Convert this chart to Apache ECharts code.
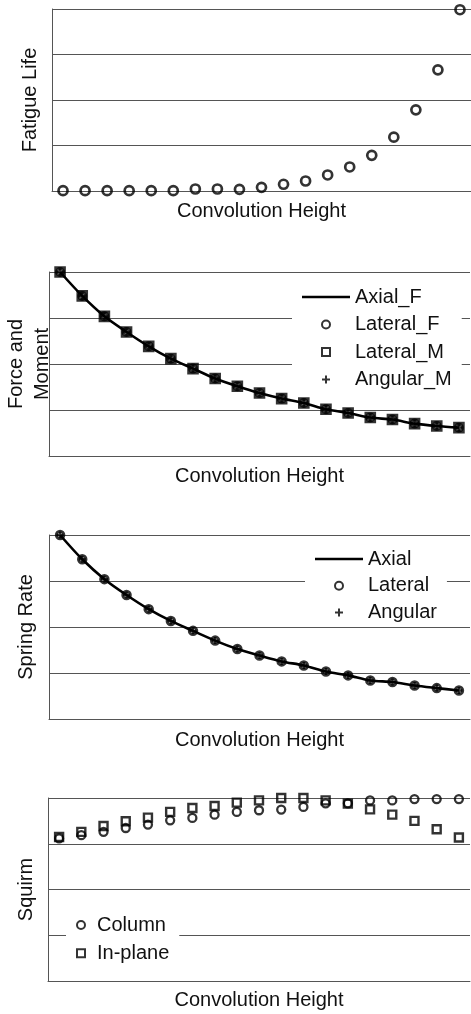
<!DOCTYPE html>
<html>
<head>
<meta charset="utf-8">
<script src="https://cdn.jsdelivr.net/npm/echarts@6/dist/echarts.min.js"></script>
<style>
  html, body { margin: 0; padding: 0; background: #fff; }
  #chart { width: 471px; height: 1014px; }
</style>
</head>
<body>
<div id="chart"></div>
<script>
// 横轴: 波纹高度序号
const convolutionIdx = [1, 2, 3, 4, 5, 6, 7, 8, 9, 10, 11, 12, 13, 14, 15, 16, 17, 18, 19]
// 疲劳寿命
const fatigueLife = [0.2, 0.2, 0.2, 0.2, 0.2, 0.2, 1.1, 1.1, 0.9, 2.0, 3.7, 5.5, 8.8, 13.2, 19.6, 29.6, 44.6, 66.6, 99.6]
// 力和力矩 (四条几乎重合)
const axialF = [100, 87.0, 75.9, 67.4, 59.6, 52.9, 47.5, 42.1, 37.9, 34.2, 31.2, 28.8, 25.4, 23.4, 20.9, 19.8, 17.6, 16.3, 15.4]
const lateralF = [100, 87.0, 75.9, 67.4, 59.6, 52.9, 47.5, 42.1, 37.9, 34.2, 31.2, 28.8, 25.4, 23.4, 20.9, 19.8, 17.6, 16.3, 15.4]
const lateralM = [100, 87.0, 75.9, 67.4, 59.6, 52.9, 47.5, 42.1, 37.9, 34.2, 31.2, 28.8, 25.4, 23.4, 20.9, 19.8, 17.6, 16.3, 15.4]
const angularM = [100, 87.0, 75.9, 67.4, 59.6, 52.9, 47.5, 42.1, 37.9, 34.2, 31.2, 28.8, 25.4, 23.4, 20.9, 19.8, 17.6, 16.3, 15.4]
// 弹簧刚度
const axialK = [100, 86.8, 76.0, 67.4, 59.7, 53.3, 47.9, 42.6, 38.0, 34.5, 31.3, 29.1, 25.8, 23.7, 20.9, 20.1, 18.2, 16.8, 15.5]
const lateralK = [100, 86.8, 76.0, 67.4, 59.7, 53.3, 47.9, 42.6, 38.0, 34.5, 31.3, 29.1, 25.8, 23.7, 20.9, 20.1, 18.2, 16.8, 15.5]
const angularK = [100, 86.8, 76.0, 67.4, 59.7, 53.3, 47.9, 42.6, 38.0, 34.5, 31.3, 29.1, 25.8, 23.7, 20.9, 20.1, 18.2, 16.8, 15.5]
// 失稳
const squirmColumn = [77.9, 79.7, 81.5, 83.6, 85.5, 87.8, 89.1, 90.9, 92.4, 93.3, 93.7, 95.1, 97.1, 97.1, 98.7, 98.7, 99.4, 99.4, 99.4]
const squirmInPlane = [78.7, 81.5, 84.7, 87.3, 89.3, 92.4, 94.5, 95.6, 97.5, 98.7, 100, 100, 98.7, 96.9, 93.8, 90.9, 87.5, 82.9, 78.4]

const FONT = 'Liberation Sans'
const GRAY = '#555'
const SQUARE = 'path://M0,0H10V10H0Z'
const PLUS = 'path://M5,0V10M0,5H10'
const BAR = 'path://M0,0H48V2.6H0Z'

function pairs (ys) {
    return convolutionIdx.map((x, i) => [x, ys[i]])
}

// 公用坐标轴样式
function xAxisOf (gridIndex, gap) {
    return {
        gridIndex: gridIndex,
        type: 'value',
        min: 0.5,
        max: 19.5,
        name: 'Convolution Height',
        nameLocation: 'middle',
        nameGap: gap,
        nameTextStyle: { fontSize: 20, color: '#111', fontFamily: FONT },
        axisLine: { show: true, lineStyle: { color: GRAY, width: 1 } },
        axisTick: { show: false },
        axisLabel: { show: false },
        splitLine: { show: false }
    }
}
function yAxisOf (gridIndex, name, gap, lineHeight) {
    return {
        gridIndex: gridIndex,
        type: 'value',
        min: 0,
        max: 100,
        interval: 25,
        name: name,
        nameLocation: 'middle',
        nameGap: gap,
        nameTextStyle: { fontSize: 20, color: '#111', fontFamily: FONT, lineHeight: lineHeight || 22 },
        axisLine: { show: true, lineStyle: { color: GRAY, width: 1 } },
        axisTick: { show: false },
        axisLabel: { show: false },
        splitLine: { show: true, lineStyle: { color: GRAY, width: 1 } }
    }
}
function lineSeries (name, idx, ys) {
    return {
        name: name, type: 'line', xAxisIndex: idx, yAxisIndex: idx,
        data: pairs(ys), smooth: 0.3, symbol: 'none',
        itemStyle: { color: '#000' },
        lineStyle: { color: '#000', width: 2.6 }
    }
}
function markSeries (name, idx, ys, symbol, size, bw) {
    return {
        name: name, type: 'scatter', xAxisIndex: idx, yAxisIndex: idx,
        data: pairs(ys), symbol: symbol, symbolSize: size, clip: false,
        itemStyle: { color: 'transparent', borderColor: '#000', borderWidth: bw }
    }
}
function legendOf (left, top, names, itemWidth, gap) {
    return {
        left: left, top: top, orient: 'vertical',
        itemWidth: itemWidth, itemHeight: 8, itemGap: gap,
        padding: [4, 10], backgroundColor: '#fff',
        symbolKeepAspect: true,
        selectedMode: false,
        textStyle: { fontSize: 20, color: '#111', fontFamily: FONT },
        itemStyle: { borderWidth: 2 },
        data: names
    }
}

let myChart = echarts.init(document.getElementById('chart'))
myChart.setOption({
    animation: false,
    backgroundColor: '#fff',
    grid: [
        { left: 52, right: 0, top: 9, height: 182, outerBoundsMode: 'none' },
        { left: 49, right: 1, top: 272, height: 184, outerBoundsMode: 'none' },
        { left: 49, right: 1, top: 535, height: 184, outerBoundsMode: 'none' },
        { left: 48, right: 1, top: 798, height: 183, outerBoundsMode: 'none' }
    ],
    xAxis: [xAxisOf(0, 10), xAxisOf(1, 10), xAxisOf(2, 11), xAxisOf(3, 9)],
    yAxis: [
        yAxisOf(0, 'Fatigue Life', 11),
        yAxisOf(1, 'Force and\nMoment', -6, 26),
        yAxisOf(2, 'Spring Rate', 12),
        yAxisOf(3, 'Squirm', 11)
    ],
    legend: [
        legendOf(292, 283, [
            { name: 'Axial_F', icon: BAR },
            { name: 'Lateral_F' },
            { name: 'Lateral_M' },
            { name: 'Angular_M' }
        ], 48, 7.5),
        legendOf(305, 545, [
            { name: 'Axial', icon: BAR },
            { name: 'Lateral' },
            { name: 'Angular' }
        ], 48, 6.7),
        legendOf(66, 911, [
            { name: 'Column' },
            { name: 'In-plane' }
        ], 22, 8.3)
    ],
    series: [
        markSeries('Fatigue', 0, fatigueLife, 'circle', 9, 2.7),

        lineSeries('Axial_F', 1, axialF),
        markSeries('Lateral_F', 1, lateralF, 'circle', 7, 3),
        markSeries('Lateral_M', 1, lateralM, SQUARE, 9, 2.6),
        markSeries('Angular_M', 1, angularM, PLUS, 7, 2.4),

        lineSeries('Axial', 2, axialK),
        markSeries('Lateral', 2, lateralK, 'circle', 7.5, 3),
        markSeries('Angular', 2, angularK, PLUS, 7, 2.4),

        markSeries('Column', 3, squirmColumn, 'circle', 8, 2.3),
        markSeries('In-plane', 3, squirmInPlane, SQUARE, 8, 2.4)
    ]
})
</script>
</body>
</html>
